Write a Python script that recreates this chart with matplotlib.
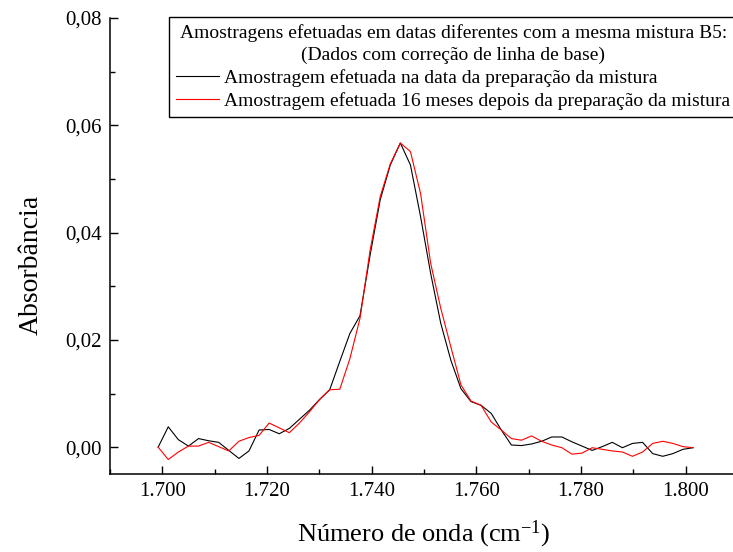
import matplotlib
matplotlib.use("Agg")
import matplotlib.pyplot as plt
from matplotlib.ticker import FuncFormatter, MultipleLocator

plt.rcParams['font.family'] = ['Liberation Serif', 'DejaVu Serif']
plt.rcParams['mathtext.default'] = 'regular'

# numero de onda (cm-1), espaçamento ~1,93 cm-1
wavenumber = [1699.20, 1701.13, 1703.06, 1704.99, 1706.91, 1708.84, 1710.77, 1712.70,
              1714.63, 1716.56, 1718.49, 1720.41, 1722.34, 1724.27, 1726.20, 1728.13,
              1730.06, 1731.98, 1733.91, 1735.84, 1737.77, 1739.70, 1741.63, 1743.56,
              1745.48, 1747.41, 1749.34, 1751.27, 1753.20, 1755.13, 1757.06, 1758.98,
              1760.91, 1762.84, 1764.77, 1766.70, 1768.63, 1770.56, 1772.48, 1774.41,
              1776.34, 1778.27, 1780.20, 1782.13, 1784.05, 1785.98, 1787.91, 1789.84,
              1791.77, 1793.70, 1795.63, 1797.55, 1799.48, 1801.41]

# amostragem na data da preparação
abs_preparo = [0.0000, 0.0038, 0.0014, 0.0002, 0.0016, 0.0012, 0.0009, -0.0006,
               -0.0021, -0.0007, 0.0032, 0.0033, 0.0025, 0.0035, 0.0052, 0.0069,
               0.0089, 0.0107, 0.0160, 0.0212, 0.0245, 0.0358, 0.0461, 0.0526,
               0.0567, 0.0526, 0.0430, 0.0324, 0.0231, 0.0162, 0.0109, 0.0085,
               0.0078, 0.0063, 0.0032, 0.0004, 0.0003, 0.0006, 0.0011, 0.0019,
               0.0019, 0.0010, 0.0002, -0.0006, 0.0001, 0.0009, -0.0001, 0.0007,
               0.0009, -0.0012, -0.0017, -0.0012, -0.0004, -0.0001]

# amostragem 16 meses depois
abs_16meses = [0.0000, -0.0023, -0.0009, 0.0002, 0.0002, 0.0009, 0.0001, -0.0007,
               0.0011, 0.0018, 0.0022, 0.0045, 0.0036, 0.0027, 0.0045, 0.0066,
               0.0089, 0.0107, 0.0108, 0.0165, 0.0240, 0.0367, 0.0467, 0.0528,
               0.0567, 0.0551, 0.0473, 0.0343, 0.0259, 0.0187, 0.0116, 0.0086,
               0.0078, 0.0047, 0.0032, 0.0016, 0.0013, 0.0021, 0.0011, 0.0004,
               -0.0001, -0.0013, -0.0011, -0.0001, -0.0004, -0.0007, -0.0009, -0.0017,
               -0.0009, 0.0007, 0.0011, 0.0007, 0.0001, -0.0001]

fig = plt.figure(figsize=(7.33, 5.52), dpi=100)
ax = fig.add_axes([110/733, 1 - 474/552, (738 - 110)/733, (474 - 18)/552])

ax.plot(wavenumber, abs_preparo, color="black", lw=0.8,
        label="Amostragem efetuada na data da preparação da mistura")
ax.plot(wavenumber, abs_16meses, color="red", lw=0.8,
        label="Amostragem efetuada 16 meses depois da preparação da mistura")

ax.set_xlim(1690, 1810)
ax.set_ylim(-0.005, 0.08)
ax.xaxis.set_major_locator(MultipleLocator(20))
ax.xaxis.set_minor_locator(MultipleLocator(10))
ax.yaxis.set_major_locator(MultipleLocator(0.02))
ax.yaxis.set_minor_locator(MultipleLocator(0.01))
ax.xaxis.set_major_formatter(FuncFormatter(lambda v, p: f"{int(round(v)):,}".replace(",", ".")))
ax.yaxis.set_major_formatter(FuncFormatter(lambda v, p: f"{v:.2f}".replace(".", ",")))

for s in ["top", "right"]:
    ax.spines[s].set_visible(False)
for s in ["left", "bottom"]:
    ax.spines[s].set_linewidth(1.1)

ax.tick_params(which="major", direction="in", length=6, width=1, labelsize=15, pad=6)
ax.tick_params(which="minor", direction="in", length=3.5, width=1)

ax.set_xlabel("Número de onda (cm$^{-1}$)", fontsize=19)
ax.xaxis.set_label_coords(0.5, -0.097)
ax.set_ylabel("Absorbância", fontsize=20)
ax.yaxis.set_label_coords(-0.105, 0.458)

leg = ax.legend(title="Amostragens efetuadas em datas diferentes com a mesma mistura B5:\n"
                      "(Dados com correção de linha de base)",
                loc="upper left", bbox_to_anchor=(169/733, 1 - 17/552),
                bbox_transform=fig.transFigure, borderaxespad=0,
                fontsize=14, title_fontsize=14, fancybox=False, framealpha=1,
                edgecolor="black", handlelength=2.2, handletextpad=0.3,
                labelspacing=0.28, borderpad=0.35)
leg.get_frame().set_linewidth(1.0)
leg.get_title().set_multialignment("center")
leg.get_title().set_linespacing(1.35)

fig.savefig("out.png", dpi=100)
